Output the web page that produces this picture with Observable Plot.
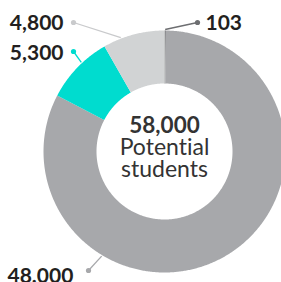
<!DOCTYPE html>
<html><head><meta charset="utf-8">
<script src="https://cdn.jsdelivr.net/npm/d3@7"></script>
<script src="https://cdn.jsdelivr.net/npm/@observablehq/plot@0.6"></script>
<style>body{margin:0;background:#fff;overflow:hidden} svg text{font-variant-ligatures:none;font-feature-settings:"liga" 0,"dlig" 0;}</style>
</head><body><div id="chart"></div>
<script>
// ---- data ----
const segments = ["Segment 103", "Segment 48000", "Segment 5300", "Segment 4800"];
const values = [103, 48000, 5300, 4800];
const valueLabels = ["103", "48.000", "5,300", "4,800"];
const totalLabel = "58,000";
const centerLines = ["Potential", "students"];

// ---- styles / layout ----
const sliceColors = ["#6d6e71", "#a7a8ab", "#00dccf", "#d1d3d4"];
const leaderColors = ["#6d6e71", "#a7a8ab", "#00dccf", "#c9cacc"];
const W = 281, H = 282, cx = 164, cy = 151, R = 121, r0 = 68;
// leader layout per segment: angle on ring (deg, clockwise from top), dot position, text position, anchor
const leaderAngle = [0.3, 211, 317, 339];
const dotPos = [[33, 129], [-76, -119], [-91, 100], [-91, 129]];
const textPos = [[41, 128], [-157, -125], [-101, 98], [-101, 128]];
const textAnchorOf = ["start", "start", "end", "end"];

const arcs = d3.pie().sort(null).value(d => d)(values);
const pts = [];
arcs.forEach((a, i) => {
  const n = Math.max(2, Math.ceil((a.endAngle - a.startAngle) / (Math.PI / 360)));
  for (let k = 0; k <= n; k++) {
    const t = a.startAngle + (a.endAngle - a.startAngle) * k / n;
    pts.push({key: segments[i], x: R * Math.sin(t), y: R * Math.cos(t)});
  }
  for (let k = n; k >= 0; k--) {
    const t = a.startAngle + (a.endAngle - a.startAngle) * k / n;
    pts.push({key: segments[i], x: r0 * Math.sin(t), y: r0 * Math.cos(t)});
  }
});

const leaders = segments.map((s, i) => {
  const t = leaderAngle[i] * Math.PI / 180;
  return {
    key: s,
    x1: (R + 1) * Math.sin(t), y1: (R + 1) * Math.cos(t),
    x2: dotPos[i][0], y2: dotPos[i][1],
    tx: textPos[i][0], ty: textPos[i][1],
    label: valueLabels[i], anchor: textAnchorOf[i], color: leaderColors[i]
  };
});

const center = [
  {text: totalLabel, y: 26, size: 22.5, weight: "bold"},
  {text: centerLines[0], y: 3.4, size: 23, weight: "normal"},
  {text: centerLines[1], y: -18.6, size: 23, weight: "normal"}
];

const plot = Plot.plot({
  width: W, height: H, margin: 0,
  x: {domain: [-cx, W - cx], axis: null},
  y: {domain: [cy - H, cy], axis: null},
  color: {domain: segments, range: sliceColors},
  style: {fontFamily: "Lato, 'Open Sans', sans-serif", background: "white", overflow: "hidden"},
  marks: [
    Plot.line(pts, {x: "x", y: "y", z: "key", fill: "key", stroke: "none", clip: "frame"}),
    Plot.link(leaders, {x1: "x1", y1: "y1", x2: "x2", y2: "y2", stroke: d => d.color, strokeWidth: 1.3}),
    Plot.dot(leaders, {x: "x2", y: "y2", r: 2.6, fill: d => d.color, stroke: "none"}),
    Plot.text(leaders.filter(d => d.anchor === "start"), {x: "tx", y: "ty", text: "label", textAnchor: "start", fontSize: 21, fontWeight: "bold", fill: "#231f20"}),
    Plot.text(leaders.filter(d => d.anchor === "end"), {x: "tx", y: "ty", text: "label", textAnchor: "end", fontSize: 21, fontWeight: "bold", fill: "#231f20"}),
    ...center.map(c => Plot.text([c], {x: () => 0, y: "y", text: "text", fontSize: c.size, fontWeight: c.weight, fill: "#333333"}))
  ]
});
document.getElementById("chart").appendChild(plot);
</script>
</body></html>
